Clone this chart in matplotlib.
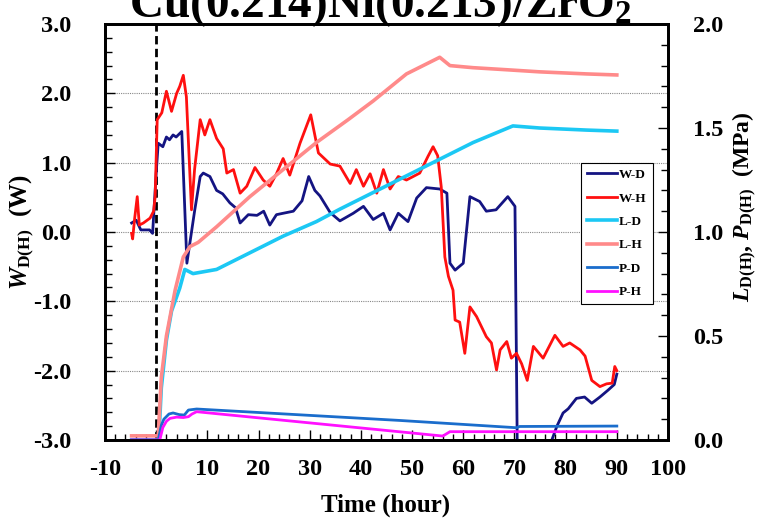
import matplotlib
matplotlib.use('Agg')
import matplotlib.pyplot as plt
from matplotlib.ticker import MultipleLocator, FormatStrFormatter

plt.rcParams['font.family'] = ['Liberation Serif', 'DejaVu Serif']
plt.rcParams['font.weight'] = 'bold'
plt.rcParams['axes.unicode_minus'] = False
plt.rcParams['mathtext.fontset'] = 'custom'
plt.rcParams['mathtext.rm'] = 'Liberation Serif:bold'
plt.rcParams['mathtext.it'] = 'Liberation Serif:italic:bold'
plt.rcParams['mathtext.bf'] = 'Liberation Serif:bold'

# ---------------- data ----------------
t_wd = [-4.8, -3.9, -3.0, -1.3, -0.7, 0.0, 0.4, 1.3, 2.0, 2.6, 3.3, 3.9, 5.0, 6.0, 7.5,
        8.6, 9.2, 10.5, 11.8, 13.0, 14.4, 15.5, 16.4, 18.0, 19.7, 21.0, 22.2, 23.5,
        24.8, 26.8, 28.5, 29.8, 31.0, 32.0, 34.0, 35.9, 38.5, 40.5, 42.4, 44.4, 45.7,
        47.3, 49.2, 50.9, 52.8, 55.4, 56.8, 57.4, 58.4, 60.0, 61.3, 63.2, 64.5, 66.4,
        68.7, 70.1, 70.6, 70.9, 76.9, 77.3, 78.3, 79.5, 80.5, 82.1, 83.7, 85.1, 86.7,
        88.3, 89.5, 90.0]
w_d = [0.13, 0.17, 0.03, 0.03, -0.02, 0.85, 1.28, 1.23, 1.37, 1.33, 1.40, 1.37, 1.45,
       -0.45, 0.3, 0.8, 0.85, 0.8, 0.6, 0.55, 0.42, 0.35, 0.13, 0.25, 0.24, 0.3, 0.1,
       0.25, 0.27, 0.3, 0.45, 0.8, 0.6, 0.52, 0.28, 0.16, 0.27, 0.37, 0.18, 0.27, 0.03,
       0.27, 0.15, 0.49, 0.64, 0.62, 0.56, -0.45, -0.55, -0.45, 0.51, 0.44, 0.30, 0.32,
       0.51, 0.37, -3.5, -3.8, -3.8, -3.0, -2.8, -2.61, -2.55, -2.4, -2.38, -2.47, -2.38,
       -2.28, -2.2, -2.05]

t_wh = [-4.8, -4.6, -4.2, -3.7, -3.3, -2.5, -1.2, -0.5, -0.2, 0.2, 1.1, 2.0, 3.0, 4.0,
        4.6, 5.3, 5.9, 6.9, 7.5, 8.6, 9.5, 10.5, 11.8, 13.1, 13.8, 15.1, 16.4, 17.7,
        19.3, 20.9, 22.2, 23.5, 24.8, 26.1, 28.1, 30.2, 31.7, 34.0, 35.9, 37.9, 39.1,
        40.5, 41.8, 43.1, 44.4, 45.7, 47.3, 48.9, 51.5, 53.1, 54.1, 55.0, 55.7, 56.4,
        57.1, 58.0, 58.4, 59.3, 60.3, 61.3, 62.6, 64.5, 65.5, 66.5, 67.2, 68.5, 69.4,
        70.4, 71.4, 72.5, 73.7, 75.6, 77.9, 79.5, 80.8, 82.8, 83.8, 85.1, 86.7, 88.0,
        89.1, 89.6, 90.0]
w_h = [-0.02, -0.1, 0.2, 0.51, 0.1, 0.13, 0.2, 0.3, 0.51, 1.62, 1.72, 2.03, 1.74, 2.0,
       2.1, 2.26, 1.95, 0.32, 0.9, 1.62, 1.4, 1.62, 1.35, 1.2, 0.85, 0.9, 0.56, 0.66,
       0.93, 0.75, 0.66, 0.84, 1.06, 0.82, 1.28, 1.69, 1.14, 0.98, 0.95, 0.7, 0.9, 0.66,
       0.84, 0.56, 0.9, 0.62, 0.8, 0.75, 0.85, 1.09, 1.23, 1.1, 0.65, -0.36, -0.64,
       -0.84, -1.27, -1.3, -1.75, -1.08, -1.22, -1.51, -1.6, -1.99, -1.7, -1.58, -1.82,
       -1.75, -1.9, -2.14, -1.65, -1.82, -1.49, -1.65, -1.6, -1.7, -1.79, -2.14, -2.23,
       -2.19, -2.18, -1.94, -2.0]

t_ld = [-4.8, 0.5, 1.0, 2.0, 3.0, 4.6, 5.6, 7.2, 11.8, 18.3, 24.8, 31.3, 35.9, 42.4,
        48.9, 55.4, 61.9, 69.7, 74.9, 84.1, 90.0]
l_d = [0.0, 0.0, 0.25, 0.48, 0.62, 0.73, 0.82, 0.80, 0.82, 0.90, 0.98, 1.05, 1.11, 1.19,
       1.27, 1.35, 1.43, 1.51, 1.50, 1.49, 1.485]

t_lh = [-4.8, 0.4, 1.0, 2.0, 3.0, 3.7, 5.3, 6.6, 8.2, 11.8, 18.3, 24.8, 31.3, 37.5,
        42.4, 48.9, 55.4, 57.4, 61.9, 68.5, 74.9, 84.1, 90.0]
l_h = [0.02, 0.02, 0.3, 0.5, 0.63, 0.72, 0.88, 0.93, 0.95, 1.025, 1.17, 1.30, 1.43,
       1.54, 1.63, 1.76, 1.84, 1.80, 1.79, 1.78, 1.77, 1.76, 1.755]

t_pd = [-4.8, 0.4, 1.0, 1.5, 2.5, 3.3, 4.5, 5.5, 6.3, 7.9, 47.6, 70.4, 71.0, 90.0]
p_d = [0.0, 0.0, 0.07, 0.10, 0.125, 0.13, 0.122, 0.12, 0.144, 0.149, 0.094, 0.059,
       0.065, 0.067]

t_ph = [-4.8, 0.7, 1.3, 2.0, 2.7, 4.0, 5.3, 6.3, 7.0, 7.9, 56.0, 57.4, 90.0]
p_h = [0.0, 0.0, 0.06, 0.09, 0.104, 0.11, 0.108, 0.112, 0.125, 0.136, 0.019, 0.04, 0.04]

series_labels = ['W-D', 'W-H', 'L-D', 'L-H', 'P-D', 'P-H']
series_colors = ['#141482', '#FF1010', '#1CC8F4', '#FF8A8A', '#1A6DCC', '#FF10FF']

title_text = 'Cu(0.214)Ni(0.213)/ZrO$_2$'

# ---------------- figure ----------------
fig = plt.figure(figsize=(7.59, 5.21), dpi=100)
ax = fig.add_axes([105/759, 81/521, 563/759, 416/521])
ax2 = ax.twinx()

ax.set_xlim(-10, 100)
ax.set_ylim(-3, 3)
ax2.set_ylim(0, 2)

ax.yaxis.grid(True, which='major', linestyle=(0, (1, 1)), color='#888888', linewidth=0.8)
ax.set_axisbelow(True)

ax.axvline(0, color='black', linestyle=(0, (3, 1.6)), linewidth=2.0, zorder=3)

l1, = ax.plot(t_wd, w_d, color=series_colors[0], lw=2.0, zorder=4)
l2, = ax.plot(t_wh, w_h, color=series_colors[1], lw=2.0, zorder=4)
l3, = ax2.plot(t_ld, l_d, color=series_colors[2], lw=2.6)
l4, = ax2.plot(t_lh, l_h, color=series_colors[3], lw=2.6)
l5, = ax2.plot(t_pd, p_d, color=series_colors[4], lw=2.0)
l6, = ax2.plot(t_ph, p_h, color=series_colors[5], lw=2.0)

# ticks
ax.xaxis.set_major_locator(MultipleLocator(10))
ax.xaxis.set_minor_locator(MultipleLocator(2))
ax.yaxis.set_major_locator(MultipleLocator(1))
ax.yaxis.set_minor_locator(MultipleLocator(0.2))
ax.yaxis.set_major_formatter(FormatStrFormatter('%.1f'))
ax2.yaxis.set_major_locator(MultipleLocator(0.5))
ax2.yaxis.set_minor_locator(MultipleLocator(0.1))
ax2.yaxis.set_major_formatter(FormatStrFormatter('%.1f'))

ax.tick_params(axis='x', which='both', direction='in', top=False, labelsize=17.5, pad=14)
ax.tick_params(axis='x', which='major', length=7, width=1)
ax.tick_params(axis='x', which='minor', length=4, width=1)
ax.tick_params(axis='y', which='both', direction='in', right=False, labelsize=17.5, pad=24)
ax.tick_params(axis='y', which='major', length=7, width=1)
ax.tick_params(axis='y', which='minor', length=5, width=1)
ax2.tick_params(axis='y', which='both', direction='in', labelsize=17.5, pad=18)
ax2.tick_params(axis='y', which='major', length=7, width=1)
ax2.tick_params(axis='y', which='minor', length=5, width=1)

for a in (ax, ax2):
    for s in a.spines.values():
        s.set_linewidth(2.0)

# labels
fig.text(386/759, 1 - 505/521, 'Time (hour)', ha='center', va='center', fontsize=18)
fig.text(22/759, 1 - 232/521, r'$\mathit{W}_{\mathrm{D(H)}}$  (W)', rotation=90,
         ha='center', va='center', fontsize=18)
fig.text(745/759, 1 - 207/521, r'$\mathit{L}_{\mathrm{D(H)}}$, $\mathit{P}_{\mathrm{D(H)}}$  (MPa)',
         rotation=90, ha='center', va='center', fontsize=17)
fig.text(381/759, 1 - 17/521, title_text, ha='center', va='baseline', fontsize=34)

leg = ax2.legend([l1, l2, l3, l4, l5, l6], series_labels, loc='upper left',
                 bbox_to_anchor=(0.845, 0.666), frameon=True, fancybox=False,
                 edgecolor='black', framealpha=1, fontsize=9.5, handlelength=2.3,
                 handletextpad=0.15, labelspacing=0.85, borderpad=0.45,
                 borderaxespad=0)
leg.get_frame().set_linewidth(0.8)

fig.savefig('out.png', dpi=100)
